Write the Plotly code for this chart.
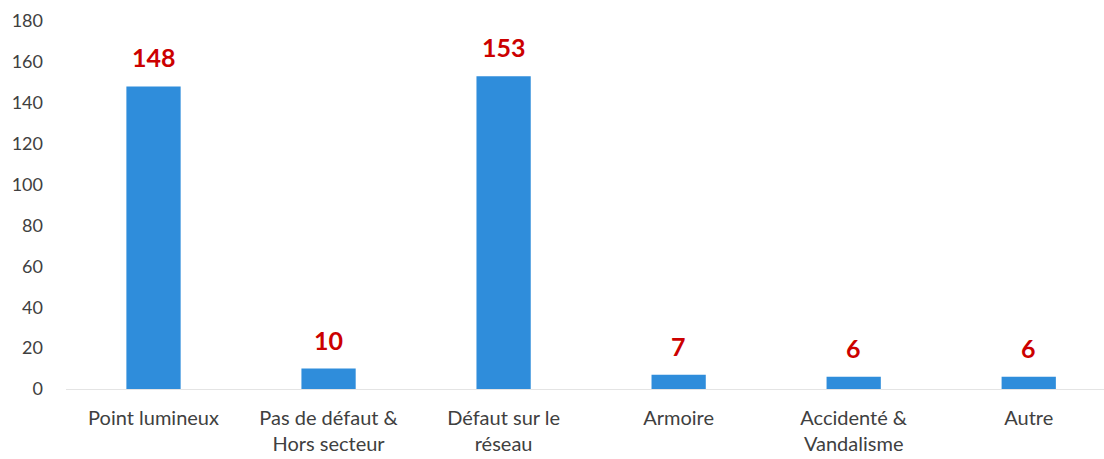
import plotly.graph_objects as go

categories = ['Point lumineux', 'Pas de défaut &<br>Hors secteur', 'Défaut sur le<br>réseau',
              'Armoire', 'Accidenté &<br>Vandalisme', 'Autre']
counts = [148, 10, 153, 7, 6, 6]
y_ticks = [0, 20, 40, 60, 80, 100, 120, 140, 160, 180]

xpos = list(range(len(categories)))

fig = go.Figure()
fig.add_trace(go.Bar(
    x=xpos,
    y=counts,
    width=0.31,
    marker=dict(color='#2f8ddb', line=dict(width=0)),
    hoverinfo='x+y',
))

# value labels above bars (red, bold)
for x, v in zip(xpos, counts):
    fig.add_annotation(
        x=x, y=v, text=str(v), showarrow=False,
        yanchor='bottom', yshift=12,
        font=dict(family='Lato', size=25, color='#cc0000', weight='bold'),
    )

fig.update_layout(
    width=1104, height=459,
    margin=dict(l=66, r=0, t=21, b=70),
    plot_bgcolor='white', paper_bgcolor='white',
    showlegend=False,
    font=dict(family='Lato', size=18, color='#404040'),
    xaxis=dict(
        tickmode='array', tickvals=xpos, ticktext=categories,
        range=[-0.5, 5.43], showgrid=False, zeroline=False,
        showline=True, linecolor='#e4e4e4', linewidth=1, ticks='',
        ticklabelstandoff=11,
        tickfont=dict(size=20, color='#404040'),
    ),
    yaxis=dict(
        range=[0, 180], tickvals=y_ticks, showgrid=False, zeroline=False,
        showline=False, ticks='', ticklabelstandoff=22,
        tickfont=dict(size=18, color='#404040'),
    ),
)

fig.write_html("out.html", config={'displayModeBar': False},
               post_script="document.body.style.margin='0';")
